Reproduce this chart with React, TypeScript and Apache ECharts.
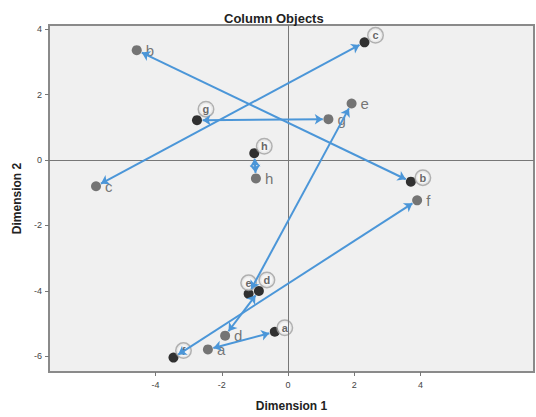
import React, { useEffect, useRef } from "react";
import * as echarts from "echarts";

const letters = ["a", "b", "c", "d", "e", "f", "g", "h"];
// circled (black) points
const blackX = [-0.4, 3.71, 2.31, -0.88, -1.19, -3.46, -2.75, -1.02];
const blackY = [-5.25, -0.66, 3.6, -4.0, -4.09, -6.04, 1.22, 0.21];
// plain (gray) points
const grayX = [-2.42, -4.57, -5.8, -1.9, 1.92, 3.9, 1.22, -0.97];
const grayY = [-5.79, 3.36, -0.8, -5.37, 1.73, -1.23, 1.25, -0.56];
const xTicks = [-4, -2, 0, 2, 4];
const yTicks = [-6, -4, -2, 0, 2, 4];
// where each circled label sits relative to its point (px)
const circleOffsets = [
  [10, -4],
  [12, -4],
  [11, -7],
  [8, -11],
  [0, -11],
  [10, -7],
  [9, -11],
  [10, -7],
];

const FONT = "Liberation Sans, Arial, sans-serif";

export default function App() {
  const ref = useRef<HTMLDivElement>(null);
  useEffect(() => {
    if (!ref.current) return;
    const chart = echarts.init(ref.current, null, { renderer: "svg" });
    const shorten = 0.17;
    const arrows = letters.map((_, i) => {
      const x1 = blackX[i], y1 = blackY[i], x2 = grayX[i], y2 = grayY[i];
      const d = Math.hypot(x2 - x1, y2 - y1);
      const ux = (x2 - x1) / d, uy = (y2 - y1) / d;
      return {
        coords: [
          [x1 + ux * shorten, y1 + uy * shorten],
          [x2 - ux * shorten, y2 - uy * shorten],
        ],
      };
    });
    chart.setOption({
      animation: false,
      backgroundColor: "#ffffff",
      textStyle: { fontFamily: FONT },
      title: {
        text: "Column Objects",
        left: 219,
        top: 7,
        textStyle: { fontSize: 13, fontWeight: "bold", color: "#222", fontFamily: FONT },
      },
      grid: {
        left: 49,
        right: 2,
        top: 25,
        bottom: 42,
        show: true,
        backgroundColor: "#f0f0f0",
        borderColor: "#8a8a8a",
        borderWidth: 2,
      },
      xAxis: {
        type: "value",
        min: -7.22,
        max: 7.43,
        name: "Dimension 1",
        nameLocation: "middle",
        nameGap: 28,
        nameTextStyle: { fontSize: 12, fontWeight: "bold", color: "#222", fontFamily: FONT },
        axisLine: { show: false, onZero: false },
        splitLine: { show: false },
        axisTick: { show: true, inside: false, length: 4, customValues: xTicks, lineStyle: { color: "#777" } },
        axisLabel: { customValues: xTicks, fontSize: 9, color: "#444", margin: 8, fontFamily: FONT },
      },
      yAxis: {
        type: "value",
        min: -6.48,
        max: 4.13,
        name: "Dimension 2",
        nameLocation: "middle",
        nameRotate: 90,
        nameGap: 18,
        nameTextStyle: { fontSize: 12, fontWeight: "bold", color: "#222", fontFamily: FONT },
        axisLine: { show: false, onZero: false },
        splitLine: { show: false },
        axisTick: { show: true, inside: false, length: 4, customValues: yTicks, lineStyle: { color: "#777" } },
        axisLabel: { customValues: yTicks, fontSize: 9, color: "#444", margin: 7, fontFamily: FONT },
      },
      series: [
        {
          type: "scatter",
          name: "refs",
          data: [],
          silent: true,
          markLine: {
            silent: true,
            symbol: "none",
            label: { show: false },
            lineStyle: { color: "#777", width: 1, type: "solid" },
            data: [{ xAxis: 0 }, { yAxis: 0 }],
          },
        },
        {
          type: "scatter",
          name: "gray",
          symbolSize: 10,
          itemStyle: { color: "#555555" },
          z: 3,
          data: letters.map((l, i) => [grayX[i], grayY[i], l]),
          label: {
            show: true,
            position: "right",
            distance: 4,
            formatter: (p: any) => p.value[2],
            fontSize: 15,
            color: "#555",
            fontFamily: FONT,
          },
        },
        {
          type: "scatter",
          name: "black",
          symbolSize: 10,
          itemStyle: { color: "#000000" },
          z: 3,
          data: letters.map((l, i) => ({
            value: [blackX[i], blackY[i], l],
            label: { offset: circleOffsets[i] },
          })),
          label: {
            show: true,
            position: "inside",
            formatter: (p: any) => "{c|" + p.value[2] + "}",
            rich: {
              c: {
                width: 14,
                height: 14,
                lineHeight: 14,
                align: "center",
                verticalAlign: "middle",
                borderRadius: 8,
                borderColor: "#a0a0a0",
                borderWidth: 1.5,
                backgroundColor: "#f8f8f8",
                fontSize: 11,
                fontWeight: "bold",
                color: "#444",
                fontFamily: FONT,
              },
            },
          },
        },
        {
          type: "lines",
          coordinateSystem: "cartesian2d",
          z: 5,
          symbol: ["arrow", "arrow"],
          symbolSize: 8,
          lineStyle: { color: "#4b96d8", width: 2, opacity: 1 },
          data: arrows,
        },
      ],
    });
    return () => chart.dispose();
  }, []);
  return (
    <div
      ref={ref}
      style={{ position: "absolute", left: 0, top: 0, width: 536, height: 417 }}
    />
  );
}
